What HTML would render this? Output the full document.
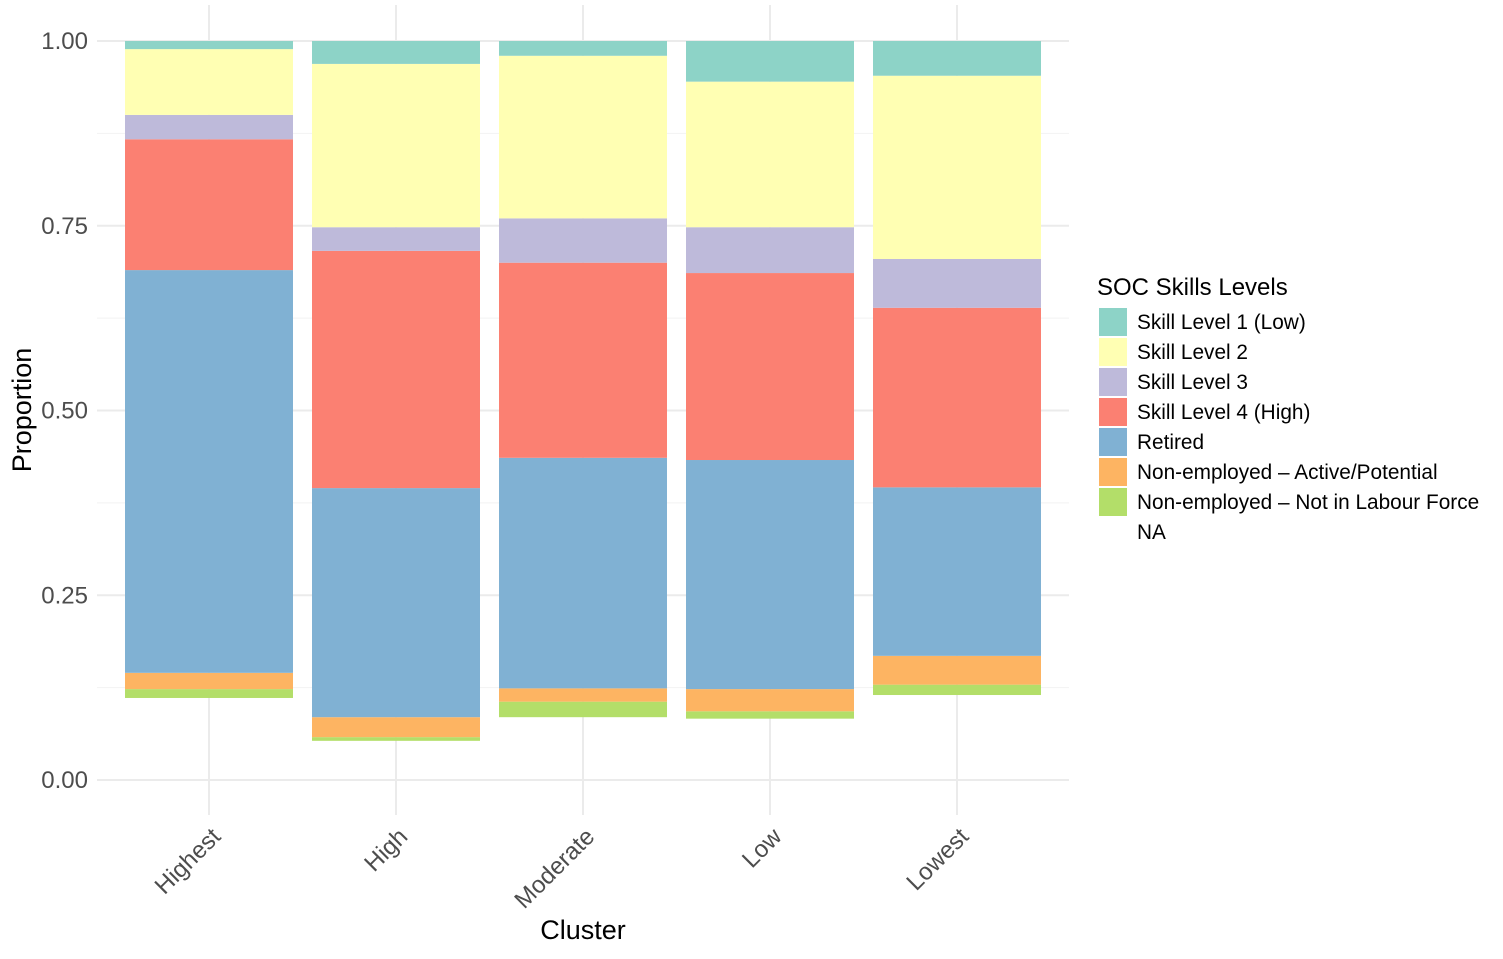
<!DOCTYPE html>
<html><head><meta charset="utf-8"><style>
body{margin:0;background:#fff;}
svg{display:block;font-family:"Liberation Sans",Arial,sans-serif;}
</style></head><body>
<svg id="chart" width="1503" height="959" viewBox="0 0 1503 959" xmlns="http://www.w3.org/2000/svg"></svg>
<script>
const categories = ["Highest","High","Moderate","Low","Lowest"];
const seriesNames = ["NA","Non-employed – Not in Labour Force","Non-employed – Active/Potential","Retired","Skill Level 4 (High)","Skill Level 3","Skill Level 2","Skill Level 1 (Low)"];
const naVals      = [0.111,0.053,0.085,0.083,0.115];
const notLFVals   = [0.012,0.005,0.021,0.010,0.014];
const activeVals  = [0.022,0.027,0.018,0.030,0.039];
const retiredVals = [0.545,0.310,0.312,0.310,0.228];
const skill4Vals  = [0.177,0.321,0.264,0.253,0.243];
const skill3Vals  = [0.033,0.032,0.060,0.062,0.066];
const skill2Vals  = [0.089,0.221,0.220,0.197,0.248];
const skill1Vals  = [0.011,0.031,0.020,0.055,0.047];
const yTicks = [0,0.25,0.5,0.75,1];
const yTickLabels = ["0.00","0.25","0.50","0.75","1.00"];

const colors = ["none","#B3DE69","#FDB462","#80B1D3","#FB8072","#BEBADA","#FFFFB3","#8DD3C7"];
const allSeries = [naVals,notLFVals,activeVals,retiredVals,skill4Vals,skill3Vals,skill2Vals,skill1Vals];
const NS="http://www.w3.org/2000/svg";
const svg=document.getElementById('chart');
const y0=780,y1=41;
const yS=v=>y0-(y0-y1)*v;
const step=187, firstC=209, barW=168;
const xS=i=>firstC+i*step;
function el(t,a,p){const e=document.createElementNS(NS,t);for(const k in a)e.setAttribute(k,a[k]);(p||svg).appendChild(e);return e;}

const grid=el('g',{});


for(let i=0;i<yTicks.length-1;i++){const v=(yTicks[i]+yTicks[i+1])/2;
 const l=el('line',{x1:97,x2:1069,y1:yS(v),y2:yS(v),stroke:'#f2f2f2','stroke-width':1},grid);
 
 }
yTicks.forEach(v=>{const l=el('line',{x1:97,x2:1069,y1:yS(v),y2:yS(v),stroke:'#ebebeb','stroke-width':2},grid);
 
 });
categories.forEach((c,i)=>{const l=el('line',{x1:xS(i),x2:xS(i),y1:5,y2:815,stroke:'#ebebeb','stroke-width':2},grid);
 
 });

categories.forEach((c,i)=>{
 let cum=0;
 allSeries.forEach((s,j)=>{
  const v=s[i];
  const r=el('rect',{x:xS(i)-barW/2,y:yS(cum+v),width:barW,height:yS(cum)-yS(cum+v),fill:colors[j]});
  
  
  cum+=v;
 });
});

yTicks.forEach((v,i)=>{const t=el('text',{x:88,y:yS(v)+8,'text-anchor':'end','font-size':24,fill:'#4d4d4d'});t.textContent=yTickLabels[i];
 
 });
categories.forEach((c,i)=>{const t=el('text',{transform:`translate(${xS(i)+13},${838}) rotate(-45)`,'text-anchor':'end','font-size':24,fill:'#4d4d4d'});t.textContent=c;
 
 });

let t=el('text',{x:583,y:939,'text-anchor':'middle','font-size':27,fill:'#000'});t.textContent='Cluster';


t=el('text',{transform:'translate(31,410) rotate(-90)','text-anchor':'middle','font-size':27,fill:'#000'});t.textContent='Proportion';



const lg=el('g',{});


t=el('text',{x:1097,y:295,'font-size':24,fill:'#000'},lg);t.textContent='SOC Skills Levels';


const order=[7,6,5,4,3,2,1,0];
order.forEach((j,k)=>{
 const y=308+k*30;
 const g=el('g',{},lg);
 
 
 el('rect',{x:1099,y:y,width:28,height:28,fill:colors[j]==='none'?'#ffffff':colors[j]},g);
 const tx=el('text',{x:1137,y:y+21,'font-size':20.8,fill:'#000'},g);tx.textContent=seriesNames[j];
});
</script>
</body></html>
